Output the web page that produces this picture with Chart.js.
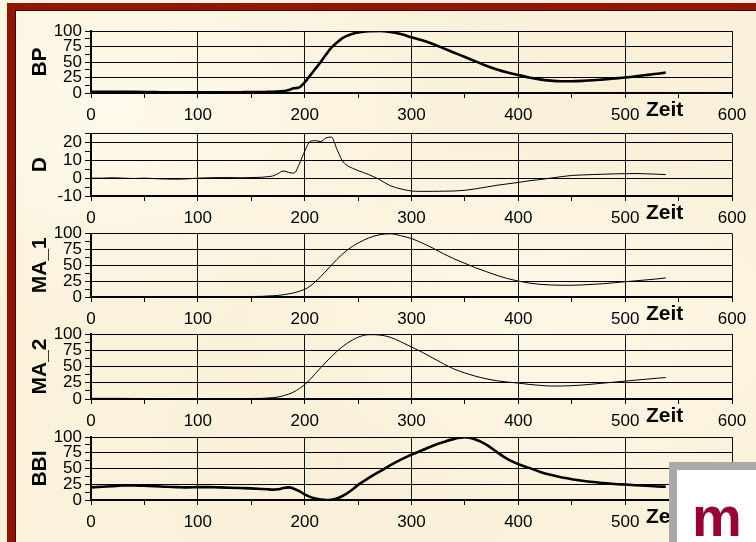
<!DOCTYPE html>
<html>
<head>
<meta charset="utf-8">
<script src="https://cdn.jsdelivr.net/npm/chart.js@4.4.1/dist/chart.umd.min.js"></script>
<style>
  html, body { margin: 0; padding: 0; }
  body {
    width: 756px; height: 542px; overflow: hidden; position: relative;
    background-color: #fbf2dc;
    background-image:
      radial-gradient(ellipse at 15% 20%, rgba(255,252,240,0.7), transparent 35%),
      radial-gradient(ellipse at 70% 60%, rgba(255,251,238,0.6), transparent 40%),
      radial-gradient(ellipse at 45% 85%, rgba(246,234,206,0.35), transparent 35%),
      radial-gradient(ellipse at 85% 15%, rgba(247,236,209,0.35), transparent 30%);
    font-family: "Liberation Sans", Arial, sans-serif;
  }
  #frame {
    position: absolute; left: 7px; top: 3px; width: 780px; height: 560px;
    border-style: solid; border-color: #921500;
    border-width: 7px 8px 7px 8px; box-sizing: border-box;
  }
  #frame::after {
    content: ""; position: absolute; left: 0; top: 0; right: 0; bottom: 0;
    border: 1px solid #3d0a00;
  }
  .box { position: absolute; left: 0; width: 756px; }
  #logo {
    position: absolute; left: 669px; top: 462px; width: 100px; height: 100px;
    background: #fff; border: 8px solid #a9a9a9; box-sizing: border-box;
  }
  #logo span {
    position: absolute; left: 15px; top: 14px;
    font: bold 56px "Liberation Sans", Arial, sans-serif; color: #990033;
  }
</style>
</head>
<body>
<div id="frame"></div>
<div class="box" style="top:0px"><canvas id="bp" width="756" height="126"></canvas></div>
<div class="box" style="top:122px"><canvas id="d" width="756" height="106"></canvas></div>
<div class="box" style="top:222px"><canvas id="ma1" width="756" height="107"></canvas></div>
<div class="box" style="top:322px"><canvas id="ma2" width="756" height="109"></canvas></div>
<div class="box" style="top:424px"><canvas id="bbi" width="756" height="118"></canvas></div>
<div id="logo"><span>m</span></div>
<script>
// Zeit-Achse (gemeinsam)
const zeit = [0, 10, 20, 30, 40, 50, 60, 70, 80, 90, 100, 110, 120, 130, 140, 150,
  160, 165, 170, 175, 180, 185, 190, 195, 200, 205, 210, 215, 220, 225, 230, 235, 240, 245, 250,
  260, 270, 280, 290, 300, 310, 320, 330, 340, 350, 360, 370, 380, 390, 400,
  410, 420, 430, 440, 450, 460, 470, 480, 490, 500, 510, 520, 530, 538];

const bp = [2, 2, 2, 2, 1.8, 1.6, 1.4, 1.2, 1, 1, 1, 1, 1, 1.2, 1.3, 1.4,
  1.5, 1.8, 2, 2.5, 3, 5, 7.5, 9, 17, 28, 39, 50, 62, 73, 81, 88, 92.5, 95.5, 97.5,
  99.5, 100, 98.5, 95, 90, 85, 79, 72, 65, 58, 51, 44, 38, 33, 29,
  25, 22, 20, 19, 19, 19.5, 20.5, 22, 23.5, 25, 27, 29, 31, 33];

const dVals = [0, 0, 0.2, 0, -0.2, 0, -0.3, -0.5, -0.6, -0.4, 0, 0.2, 0.3, 0.3, 0.2, 0.3,
  0.5, 0.8, 1.2, 2.5, 4, 3.2, 2.8, 8, 15, 20.5, 21, 20.5, 22.5, 23, 16.5, 10, 7, 5.5, 4.2,
  2, -0.8, -4.2, -6, -7.2, -7.4, -7.4, -7.3, -7.2, -6.8, -6, -5, -4, -3.2, -2.4,
  -1.5, -0.8, 0, 0.8, 1.5, 1.8, 2, 2.2, 2.4, 2.5, 2.6, 2.4, 2.2, 2];

const ma1 = [0.8, 0.8, 0.8, 0.8, 0.7, 0.7, 0.6, 0.6, 0.5, 0.5, 0.5, 0.5, 0.5, 0.6, 0.7, 0.8,
  1, 1.5, 2, 2.5, 3.5, 5, 6.5, 9, 12, 17, 24, 32, 41, 50, 59, 67, 74, 80, 85,
  93, 98, 99.5, 96.5, 92, 85, 77, 68, 60, 53, 46, 40, 34, 29, 25,
  22, 20, 19, 18.5, 18.5, 19, 20, 21, 22.5, 24, 25.5, 27, 28.5, 30];

const ma2 = [1, 1, 1, 1, 0.8, 0.8, 0.7, 0.7, 0.6, 0.6, 0.5, 0.5, 0.5, 0.6, 0.7, 0.8,
  1, 1.5, 2, 3, 5, 7.5, 11, 16, 22, 30, 39, 48, 57, 65, 73, 80, 86, 91, 95,
  99, 98.5, 95, 88, 80, 72, 63, 54, 46, 40, 35, 31, 28, 26, 24.5,
  22.5, 21, 20, 20, 20.5, 21.5, 23, 24.5, 26, 27.5, 29, 30.5, 32, 33];

const bbi = [20, 21, 22, 23, 23, 22.5, 22, 21, 20.5, 20, 20.5, 20.5, 20, 19.5, 19, 18.5,
  17.5, 17, 16.5, 17, 19, 20, 18, 14, 9, 5, 2.5, 0.8, 0, 0.5, 2.5, 6, 11, 17, 24,
  35, 45, 55, 64, 72, 79, 86, 92, 97, 99.5, 96, 88, 76, 65, 57,
  51, 45, 40, 36, 33, 30.5, 28.5, 27, 25.5, 24.5, 23.5, 22.5, 21.5, 21];

// Achsenbeschriftungen
const zeitTicks = [0, 100, 200, 300, 400, 500, 600];
const prozentTicks = [0, 25, 50, 75, 100];
const dTicks = [-10, 0, 10, 20];

const FONT = "'Liberation Sans', Arial, sans-serif";

// "Zeit" neben der x-Achse
const zeitLabel = {
  id: "zeitLabel",
  afterDraw(chart) {
    const { ctx, scales } = chart;
    ctx.save();
    ctx.font = "bold 21px " + FONT;
    ctx.fillStyle = "#000";
    ctx.textAlign = "center";
    ctx.textBaseline = "middle";
    ctx.fillText("Zeit", scales.x.getPixelForValue(537), scales.x.top + 17);
    ctx.restore();
  }
};

function withMinor(ticks) {
  const out = [];
  for (let i = 0; i < ticks.length; i++) {
    out.push(ticks[i]);
    if (i < ticks.length - 1) out.push((ticks[i] + ticks[i + 1]) / 2);
  }
  return out;
}

function makeChart(id, title, values, labels, yMin, yMax, lineW, padTop, xHeight) {
  const yAll = withMinor(labels);
  if (yMax > labels[labels.length - 1]) yAll.push(yMax);
  const xAll = withMinor(zeitTicks);
  return new Chart(document.getElementById(id), {
    type: "line",
    data: {
      datasets: [{
        data: zeit.map((z, i) => ({ x: z, y: values[i] })),
        borderColor: "#000",
        borderWidth: lineW,
        pointRadius: 0,
        cubicInterpolationMode: "monotone",
        fill: false
      }]
    },
    options: {
      responsive: false,
      animation: false,
      events: [],
      layout: { padding: { left: 28, right: 24, top: padTop, bottom: 0 } },
      plugins: { legend: { display: false }, tooltip: { enabled: false } },
      scales: {
        x: {
          type: "linear",
          min: 0, max: 600,
          afterBuildTicks: axis => { axis.ticks = xAll.map(v => ({ value: v })); },
          afterFit: s => { s.height = xHeight; },
          ticks: {
            autoSkip: false, maxRotation: 0, color: "#000", padding: 7,
            font: { family: FONT, size: 17 },
            callback: v => (zeitTicks.includes(v) ? String(v) : "")
          },
          grid: {
            color: c => (c.tick && zeitTicks.includes(c.tick.value) ? "#111" : "rgba(0,0,0,0)"),
            tickColor: "#000", tickLength: 5, lineWidth: 1
          },
          border: { color: "#000", width: 2 }
        },
        y: {
          min: yMin, max: yMax,
          afterBuildTicks: axis => { axis.ticks = yAll.map(v => ({ value: v })); },
          afterFit: s => { s.width = 63; },
          ticks: {
            autoSkip: false, color: "#000", padding: 3,
            font: { family: FONT, size: 17, lineHeight: 1 },
            callback: v => (labels.includes(v) ? String(v) : "")
          },
          grid: {
            color: c => (c.tick && (labels.includes(c.tick.value) || c.tick.value === yMax) ? "#000" : "rgba(0,0,0,0)"),
            tickColor: "#000", tickLength: 6, lineWidth: 1
          },
          border: { color: "#000", width: 2 },
          title: {
            display: true, text: title, color: "#000",
            font: { family: FONT, size: 21, weight: "bold" },
            padding: { top: 0, bottom: 0 }
          }
        }
      }
    },
    plugins: [zeitLabel]
  });
}

makeChart("bp", "BP", bp, prozentTicks, 0, 100, 2.6, 31, 33);
makeChart("d", "D", dVals, dTicks, -10, 25, 1, 10, 32);
makeChart("ma1", "MA_1", ma1, prozentTicks, 0, 100, 1, 11, 32);
makeChart("ma2", "MA_2", ma2, prozentTicks, 0, 100, 1, 12, 32);
makeChart("bbi", "BBI", bbi, prozentTicks, 0, 100, 2.6, 13, 42);
</script>
</body>
</html>
